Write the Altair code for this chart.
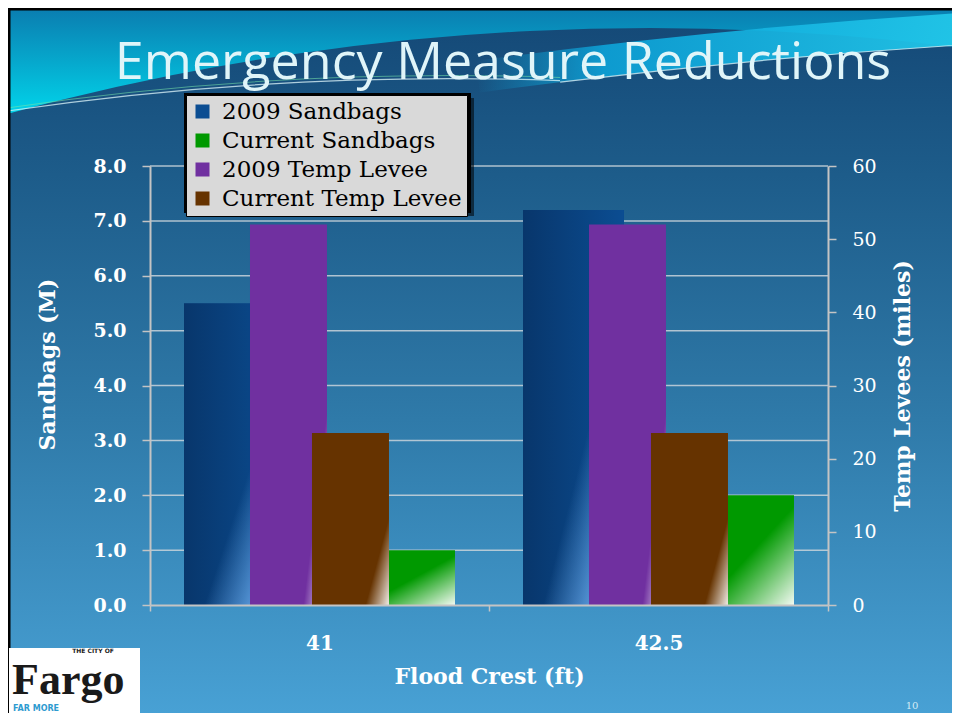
import altair as alt
import pandas as pd

# ---------------- data ----------------
crests = ["41", "42.5"]
series_names = ["2009 Sandbags", "Current Sandbags", "2009 Temp Levee", "Current Temp Levee"]
sandbags_2009 = [5.5, 7.2]
sandbags_current = [1.0, 2.0]
levee_2009 = [52.0, 52.0]
levee_current = [23.5, 23.5]
series_colors = ["#0b4d92", "#009900", "#7030a0", "#663300"]
sandbag_ticks = [0, 1, 2, 3, 4, 5, 6, 7, 8]
levee_ticks = [0, 10, 20, 30, 40, 50, 60]

def series_df(name, values):
    return pd.DataFrame({"crest": crests, "series": [name] * len(crests), "value": values})

blue_df = series_df(series_names[0], sandbags_2009)
green_df = series_df(series_names[1], sandbags_current)
purple_df = series_df(series_names[2], levee_2009)
brown_df = series_df(series_names[3], levee_current)
sand_df = pd.concat([blue_df, green_df], ignore_index=True)
grid_df = pd.DataFrame({"value": sandbag_ticks[1:]})
one = pd.DataFrame({"a": [0]})

# ---------------- layout ----------------
W, H = 678, 439
PAD_L, PAD_T, PAD_R, PAD_B = 142, 158, 124, 108
SERIF = "DejaVu Serif"
AXIS_GREY = "#c4c4c4"
TAU = 6.2832

def grad(stops, x1=0, y1=0, x2=1, y2=1):
    return alt.LinearGradient(
        gradient="linear",
        stops=[alt.GradientStop(color=c, offset=o) for o, c in stops],
        x1=x1, y1=y1, x2=x2, y2=y2,
    )

# ---------------- encodings ----------------
x_enc = alt.X(
    "crest:N", sort=crests,
    scale=alt.Scale(domain=crests, paddingInner=0, paddingOuter=0),
    axis=alt.Axis(
        title="Flood Crest (ft)", labelAngle=0, tickBand="extent", tickSize=6,
        tickColor=AXIS_GREY, tickWidth=1.5, domainColor=AXIS_GREY, domainWidth=2,
        labelFont=SERIF, labelFontWeight="bold", labelFontSize=20, labelColor="white",
        labelPadding=22, titleFont=SERIF, titleFontSize=22, titleFontWeight="bold",
        titleColor="white", titlePadding=13, grid=False, zindex=1,
    ),
)

y_left = alt.Y(
    "value:Q",
    scale=alt.Scale(domain=[0, 8], nice=False, zero=True),
    axis=alt.Axis(
        orient="left", values=sandbag_ticks, format=".1f", title="Sandbags (M)",
        grid=False, tickSize=8, tickColor=AXIS_GREY, tickWidth=1.5,
        domainColor=AXIS_GREY, domainWidth=2,
        labelFont=SERIF, labelFontWeight="bold", labelFontSize=19, labelColor="white",
        labelPadding=16, titleFont=SERIF, titleFontWeight="bold", titleFontSize=22,
        titleColor="white", titlePadding=33, titleY=198, zindex=1,
    ),
)

y_right = alt.Y(
    "value:Q",
    scale=alt.Scale(domain=[0, 60], nice=False, zero=True),
    axis=alt.Axis(
        orient="right", values=levee_ticks, format="d", title="Temp Levees (miles)",
        grid=False, tickSize=8, tickColor=AXIS_GREY, tickWidth=1.5,
        domainColor=AXIS_GREY, domainWidth=2,
        labelFont=SERIF, labelFontWeight="normal", labelFontSize=19, labelColor="white",
        labelPadding=16, titleFont=SERIF, titleFontWeight="bold", titleFontSize=22,
        titleColor="white", titlePadding=38, titleAngle=270, zindex=1,
    ),
)

legend = alt.Legend(
    orient="none", legendX=36, legendY=-71, title=None, direction="vertical",
    symbolType="square", symbolSize=196, symbolStrokeWidth=0,
    labelFont=SERIF, labelFontSize=23, labelColor="black", labelOffset=8, labelLimit=400,
    fillColor="#d9d9d9", strokeColor="black", padding=5, rowPadding=5, zindex=1,
)
color_enc = alt.Color(
    "series:N", scale=alt.Scale(domain=series_names, range=series_colors), legend=legend
)

xoff_p = alt.XOffset(
    "series:N", scale=alt.Scale(domain=series_names[:2], paddingInner=0.406, paddingOuter=0.2)
)
# the levee bars overlap one another: empty slots at the ends of the offset band
xoff_s = alt.XOffset(
    "series:N",
    scale=alt.Scale(domain=["slot-left"] + series_names[2:] + ["slot-right"],
                    paddingInner=0, paddingOuter=0.734, align=0.868),
)

# ---------------- background (slide theme) ----------------
bg = alt.Chart(one).mark_rect(
    color=grad([(0, "#0a7db0"), (0.08, "#06aace"), (0.17, "#00e0f2"), (1, "#3f9fd0")], 0, 0, 0, 1)
).encode(x=alt.value(-PAD_L), x2=alt.value(W + PAD_R), y=alt.value(-PAD_T), y2=alt.value(H + PAD_B))

dark = alt.Chart(one).mark_arc(
    radius=2446, theta=0, theta2=TAU,
    color=grad([(0, "#154a78"), (0.03, "#1d5c8a"), (0.08, "#2f7aa9"), (0.145, "#4aa4d8"), (1, "#4aa4d8")], 0, 0, 0, 1),
).encode(x=alt.value(500), y=alt.value(2308))

band = alt.Chart(one).mark_arc(
    radius=6951, innerRadius=6919, theta=6.1498, theta2=TAU,
    color=grad([(0, "rgba(12,170,222,0)"), (0.14, "rgba(12,168,222,0.85)"), (0.52, "rgba(34,198,232,0.95)"), (1, "rgba(34,198,232,0.95)")], 0, 0, 1, 0),
).encode(x=alt.value(1250), y=alt.value(6784))

line_left = alt.Chart(one).mark_arc(
    radius=3039, innerRadius=3037.8, theta=6.1376, theta2=6.3194, color="rgba(225,248,252,0.75)",
).encode(x=alt.value(300), y=alt.value(2951))
line_left2 = alt.Chart(one).mark_arc(
    radius=3042, innerRadius=3041, theta=6.1376, theta2=6.3194, color="rgba(120,230,170,0.55)",
).encode(x=alt.value(300), y=alt.value(2951))
line_right = alt.Chart(one).mark_arc(
    radius=6919.6, innerRadius=6918.4, theta=6.1615, theta2=TAU, color="rgba(225,248,252,0.75)",
).encode(x=alt.value(1250), y=alt.value(6784))

border_top = alt.Chart(one).mark_rule(color="black", strokeWidth=3).encode(
    x=alt.value(-PAD_L), x2=alt.value(W + PAD_R), y=alt.value(-PAD_T + 1)
)
border_left = alt.Chart(one).mark_rule(color="black", strokeWidth=3).encode(
    x=alt.value(-PAD_L + 1), y=alt.value(-PAD_T), y2=alt.value(H + PAD_B)
)

# ---------------- primary (sandbags) ----------------
grid = alt.Chart(grid_df).mark_rule(color="#c9d3da", strokeWidth=1.5, opacity=0.85).encode(y=y_left)
sand_bars = alt.Chart(sand_df).mark_bar().encode(x=x_enc, xOffset=xoff_p, y=y_left, color=color_enc)
blue_shade = alt.Chart(blue_df).mark_bar(
    color=grad([(0, "rgba(3,20,50,0.40)"), (1, "rgba(3,20,50,0)")], 0, 0, 1, 0)
).encode(x=x_enc, xOffset=xoff_p, y=y_left)
blue_light = alt.Chart(blue_df).mark_bar(
    color=grad([(0, "rgba(110,175,240,0)"), (0.5, "rgba(110,175,240,0)"), (1, "rgba(110,175,240,0.8)")], 0.2, 0.5, 0.7, 1)
).encode(x=x_enc, xOffset=xoff_p, y=y_left)
green_light = alt.Chart(green_df).mark_bar(
    color=grad([(0, "rgba(255,255,255,0)"), (0.55, "rgba(255,255,255,0)"), (1, "rgba(255,255,255,0.95)")], 0, 0, 1, 1)
).encode(x=x_enc, xOffset=xoff_p, y=y_left)
primary = alt.layer(grid, sand_bars, blue_shade, blue_light, green_light)

# ---------------- secondary (temp levees) ----------------
sec_w = alt.RelativeBandSize(band=77 / 62)
fade = grad([(0, "rgba(255,255,255,0)"), (0.55, "rgba(255,255,255,0)"), (1, "rgba(255,255,255,0.9)")], 0.5, 0.7, 1, 1)
purple_bar = alt.Chart(purple_df).mark_bar(width=sec_w).encode(x=x_enc, xOffset=xoff_s, y=y_right, color=color_enc)
purple_light = alt.Chart(purple_df).mark_bar(width=sec_w, color=fade).encode(x=x_enc, xOffset=xoff_s, y=y_right)
brown_bar = alt.Chart(brown_df).mark_bar(width=sec_w).encode(x=x_enc, xOffset=xoff_s, y=y_right, color=color_enc)
brown_light = alt.Chart(brown_df).mark_bar(width=sec_w, color=fade).encode(x=x_enc, xOffset=xoff_s, y=y_right)
secondary = alt.layer(purple_bar, purple_light, brown_bar, brown_light)

# ---------------- decorations / text ----------------
legend_shadow = alt.Chart(one).mark_rect(color="rgba(0,0,0,0.55)").encode(
    x=alt.value(39), x2=alt.value(324), y=alt.value(-68), y2=alt.value(50)
)
legend_frame = alt.Chart(one).mark_rect(color="black").encode(
    x=alt.value(34), x2=alt.value(321), y=alt.value(-73), y2=alt.value(47)
)
title = alt.Chart(one).mark_text(
    text="Emergency Measure Reductions", font="Open Sans", fontSize=52,
    color="#e0f5f9", align="center", baseline="alphabetic",
).encode(x=alt.value(353), y=alt.value(-87))
page_num = alt.Chart(one).mark_text(
    text="10", font=SERIF, fontSize=10, color="#d5ebf5", align="center", baseline="alphabetic"
).encode(x=alt.value(762), y=alt.value(543))
logo_box = alt.Chart(one).mark_rect(color="white").encode(
    x=alt.value(-141), x2=alt.value(-10), y=alt.value(482), y2=alt.value(H + PAD_B)
)
logo_city = alt.Chart(one).mark_text(
    text="THE CITY OF", font="DejaVu Sans", fontSize=6, fontWeight="bold", color="#222222",
    align="center", baseline="middle",
).encode(x=alt.value(-57), y=alt.value(485))
logo_fargo = alt.Chart(one).mark_text(
    text="Fargo", font="Liberation Serif", fontSize=44, fontWeight="bold", color="#1a1a1a",
    align="left", baseline="alphabetic",
).encode(x=alt.value(-138), y=alt.value(528))
logo_more = alt.Chart(one).mark_text(
    text="FAR MORE", font="DejaVu Sans", fontSize=8, fontWeight="bold", color="#2e9bd0",
    align="left", baseline="alphabetic",
).encode(x=alt.value(-137), y=alt.value(545))

chart = alt.layer(
    bg, dark, band, line_left, line_left2, line_right, border_top, border_left,
    primary, secondary,
    legend_shadow, legend_frame, title, page_num, logo_box, logo_city, logo_fargo, logo_more,
).resolve_scale(
    y="independent", xOffset="independent"
).properties(
    width=W, height=H,
    autosize=alt.AutoSizeParams(type="none"),
    padding={"left": PAD_L, "top": PAD_T, "right": PAD_R, "bottom": PAD_B},
    background="white",
).configure_view(stroke=None)

chart.save("out.html", embed_options={"renderer": "svg", "actions": False})
